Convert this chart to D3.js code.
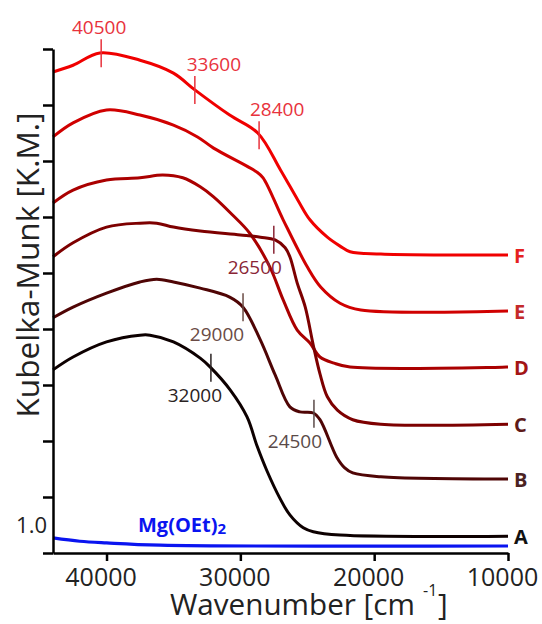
<!DOCTYPE html>
<html>
<head>
<meta charset="utf-8">
<script src="https://cdn.jsdelivr.net/npm/d3@7"></script>
<style>
body { margin: 0; background: #fff; }
text { font-family: "Open Sans", sans-serif; }
</style>
</head>
<body>
<div id="chart"></div>
<script>
// spectra: [wavenumber cm-1, K.M. (stacked, offset)]
var specF = [[44000,8.59],[42500,8.71],[40500,8.93],[37500,8.80],[35000,8.57],[33400,8.27],[30800,7.82],[28700,7.50],[27000,6.84],[25700,6.30],[24800,5.95],[23500,5.64],[22550,5.48],[21800,5.38],[19500,5.34],[10000,5.32]];
var specE = [[44000,7.43],[42500,7.68],[40000,7.91],[37500,7.82],[35000,7.64],[33200,7.43],[32000,7.23],[28750,6.80],[28300,6.70],[26800,5.95],[25000,5.11],[24000,4.75],[22550,4.46],[21000,4.34],[10000,4.32]];
var specD = [[44000,6.25],[42500,6.48],[40000,6.66],[37500,6.70],[35800,6.75],[34300,6.70],[33000,6.54],[32000,6.36],[30600,6.04],[29300,5.71],[27800,5.11],[26800,4.52],[25750,3.98],[24800,3.75],[24050,3.50],[23000,3.39],[21800,3.32],[10000,3.32]];
var specC = [[44000,5.29],[42500,5.54],[40000,5.82],[37500,5.89],[36250,5.89],[35000,5.82],[33000,5.75],[30000,5.68],[28500,5.64],[27400,5.59],[26650,5.45],[26300,5.29],[25750,4.82],[25150,4.39],[24550,3.71],[24050,3.20],[23500,2.79],[22750,2.55],[21600,2.38],[19500,2.30],[10000,2.30]];
var specB = [[44000,4.20],[42500,4.39],[40000,4.64],[37500,4.84],[36250,4.89],[35000,4.84],[33000,4.73],[30800,4.57],[29800,4.39],[28500,3.80],[27400,3.18],[26300,2.61],[25550,2.52],[24550,2.50],[24050,2.38],[22800,1.71],[22200,1.52],[21600,1.43],[19500,1.36],[10000,1.32]];
var specA = [[44000,3.27],[42500,3.50],[40000,3.77],[37500,3.89],[36750,3.89],[35000,3.77],[33000,3.48],[32250,3.32],[30750,2.91],[29500,2.43],[28750,1.91],[28000,1.46],[27050,0.98],[26300,0.68],[25300,0.45],[24550,0.38],[22550,0.32],[10000,0.30]];
var specMg = [[44000,0.27],[42000,0.21],[40000,0.18],[36000,0.14],[10000,0.125]];

var seriesNames = ["F", "E", "D", "C", "B", "A"];
var seriesData = [specF, specE, specD, specC, specB, specA];
var seriesColors = ["#f00000", "#d00000", "#aa0000", "#7d0000", "#4f0505", "#0d0000"];
var nameColors = ["#e52020", "#c42a2a", "#a31515", "#5e1a1a", "#4a2222", "#111111"];

// band positions marked on the curves
var markSeries = ["F", "F", "F", "C", "B", "A", "B"];
var markAt = [40400, 33400, 28600, 27500, 29800, 32200, 24500];
var markLabels = ["40500", "33600", "28400", "26500", "29000", "32000", "24500"];
var markColors = ["#e8323c", "#e8323c", "#e8323c", "#8a2535", "#6a4b45", "#2a2222", "#5a4a48"];
var markDx = [-2, 19, 18, -19, -26, -16, -19];
var markAbove = [true, true, true, false, false, false, false];

var xTicks = [40000, 30000, 20000, 10000];
var yTicks = d3.range(0, 10);

var w = 542, h = 624;
var margin = { top: 49, right: 34, bottom: 71, left: 53 };

var x = d3.scaleLinear()
	.domain([44000, 10000])
	.range([margin.left, w - margin.right]);

var y = d3.scaleLinear()
	.domain([0, 9])
	.range([h - margin.bottom, margin.top]);

var svg = d3.select("#chart")
	.append("svg")
	.attr("width", w)
	.attr("height", h);

var line = d3.line()
	.x(function (d) { return x(d[0]); })
	.y(function (d) { return y(d[1]); })
	.curve(d3.curveCatmullRom.alpha(0.5));

//Mg(OEt)2 reference
svg.append("path")
	.datum(specMg)
	.attr("d", line)
	.attr("fill", "none")
	.attr("stroke", "#0a14f0")
	.attr("stroke-width", 3.2);

//Spectra
svg.selectAll(".spec")
	.data(seriesData)
	.enter()
	.append("path")
	.attr("class", "spec")
	.attr("d", line)
	.attr("fill", "none")
	.attr("stroke", function (d, i) { return seriesColors[i]; })
	.attr("stroke-width", 3)
	.attr("stroke-linejoin", "round");

//Series letters at the right end
svg.selectAll(".name")
	.data(seriesNames)
	.enter()
	.append("text")
	.attr("class", "name")
	.attr("x", w - margin.right + 6)
	.attr("y", function (d, i) {
		var s = seriesData[i];
		return y(s[s.length - 1][1]) + 8;
	})
	.attr("font-size", 20)
	.attr("font-weight", "bold")
	.attr("fill", function (d, i) { return nameColors[i]; })
	.text(function (d) { return d; });

//value of a spectrum at a given wavenumber (linear between read points)
function valueAt(spec, wn) {
	for (var i = 0; i < spec.length - 1; i++) {
		var a = spec[i], b = spec[i + 1];
		if (wn <= a[0] && wn >= b[0]) {
			return a[1] + (b[1] - a[1]) * (a[0] - wn) / (a[0] - b[0]);
		}
	}
	return spec[spec.length - 1][1];
}

//Band marks
markAt.forEach(function (wn, i) {
	var spec = seriesData[seriesNames.indexOf(markSeries[i])];
	var cx = x(wn), cy = y(valueAt(spec, wn));
	svg.append("line")
		.attr("x1", cx).attr("x2", cx)
		.attr("y1", cy - 14).attr("y2", cy + 14)
		.attr("stroke", markColors[i])
		.attr("stroke-width", 1.5);
	svg.append("text")
		.attr("x", cx + markDx[i])
		.attr("y", markAbove[i] ? cy - 19 : cy + 34)
		.attr("text-anchor", "middle")
		.attr("font-size", 19)
		.attr("fill", markColors[i])
		.text(markLabels[i]);
});

//Mg(OEt)2 label
var mgLabel = svg.append("text")
	.attr("x", 138)
	.attr("y", 532)
	.attr("font-size", 20)
	.attr("font-weight", "bold")
	.attr("fill", "#0a14f0");
mgLabel.append("tspan").text("Mg(OEt)");
mgLabel.append("tspan").attr("font-size", 15).attr("dy", 2).text("2");

//X axis
var xAxis = svg.append("g")
	.attr("transform", "translate(0," + y(0) + ")");
xAxis.call(d3.axisBottom(x)
	.tickValues(d3.range(11000, 44001, 1000))
	.tickSize(4)
	.tickFormat(""));
xAxis.call(d3.axisBottom(x)
	.tickValues(xTicks)
	.tickSize(8)
	.tickSizeOuter(0)
	.tickPadding(7)
	.tickFormat(d3.format("d")));
xAxis.selectAll("path, line")
	.attr("stroke", "#000")
	.attr("stroke-width", 2.5);
xAxis.selectAll("text")
	.attr("font-family", "Open Sans, sans-serif")
	.attr("font-size", 25)
	.attr("dx", -6)
	.attr("fill", "#222");

//Y axis
var yAxis = svg.append("g")
	.attr("transform", "translate(" + x(44000) + ",0)");
yAxis.call(d3.axisLeft(y)
	.tickValues(yTicks)
	.tickSize(10)
	.tickSizeOuter(0)
	.tickFormat(""));
yAxis.selectAll("path, line")
	.attr("stroke", "#000")
	.attr("stroke-width", 2.5);

//"1.0" scale label
svg.append("text")
	.attr("x", margin.left - 6)
	.attr("y", y(0.5) + 8)
	.attr("text-anchor", "end")
	.attr("font-size", 22)
	.attr("fill", "#222")
	.text("1.0");

//shrink or grow a text so it spans a given length
function fitText(sel, len) {
	var size = +sel.attr("font-size");
	var cur = sel.node().getComputedTextLength();
	sel.attr("font-size", size * len / cur);
}

//Axis titles
var xTitle = svg.append("text")
	.attr("x", 170)
	.attr("y", 615)
	.attr("font-size", 30)
	.attr("fill", "#222")
	.text("Wavenumber [cm");
fitText(xTitle, 245);
svg.append("text")
	.attr("x", 423)
	.attr("y", 596)
	.attr("font-size", 16)
	.attr("fill", "#222")
	.text("-1");
svg.append("text")
	.attr("x", 438)
	.attr("y", 615)
	.attr("font-size", +xTitle.attr("font-size"))
	.attr("fill", "#222")
	.text("]");

var yTitle = svg.append("text")
	.attr("transform", "translate(39,265) rotate(-90)")
	.attr("text-anchor", "middle")
	.attr("font-size", 30)
	.attr("fill", "#222")
	.text("Kubelka-Munk [K.M.]");
fitText(yTitle, 305);
</script>
</body>
</html>
